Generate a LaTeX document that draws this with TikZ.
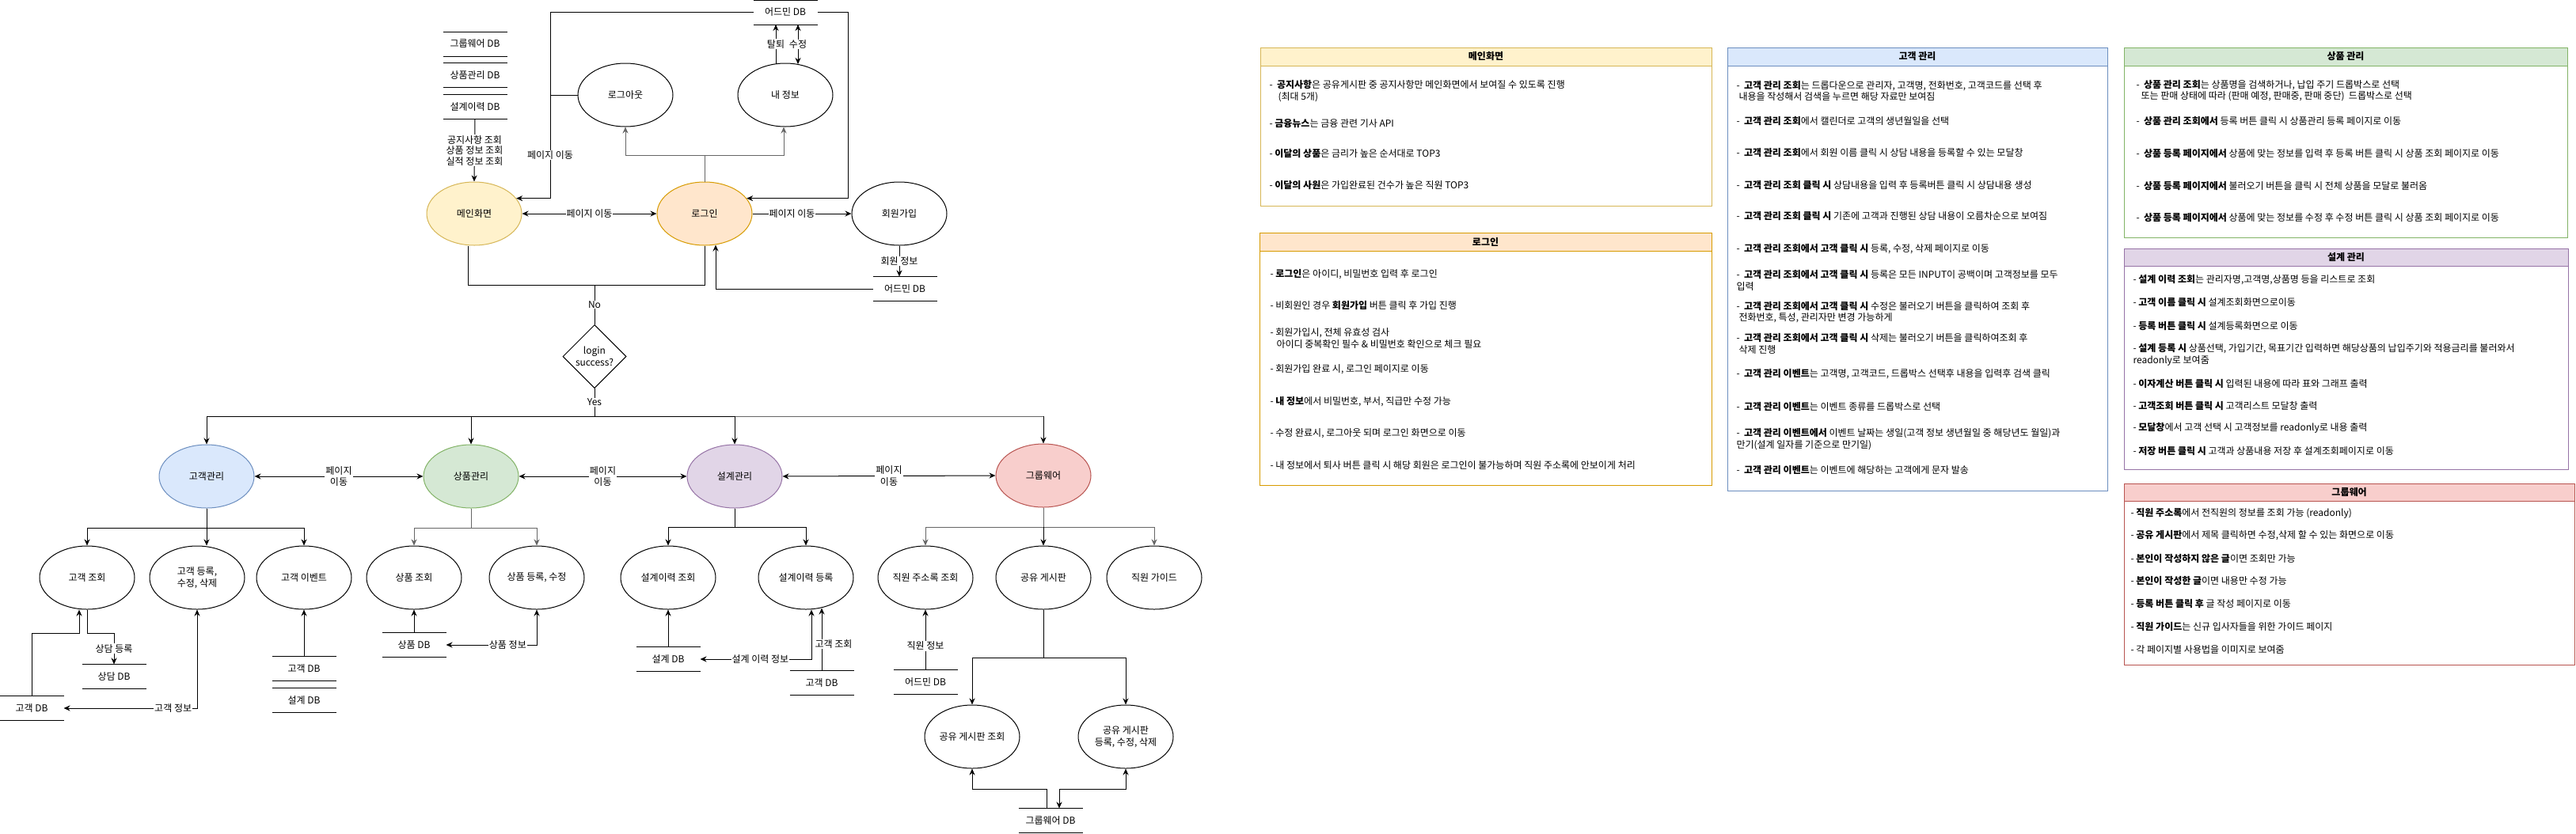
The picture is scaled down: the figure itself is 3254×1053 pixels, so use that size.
\documentclass[tikz,border=0pt]{standalone}
\usepackage{fontspec}
\setmainfont{Noto Sans CJK KR}
\usetikzlibrary{shapes.geometric,arrows.meta,calc}
\definecolor{ylF}{HTML}{FFF2CC}\definecolor{ylD}{HTML}{D6B656}
\definecolor{orF}{HTML}{FFE6CC}\definecolor{orD}{HTML}{D79B00}
\definecolor{blF}{HTML}{DAE8FC}\definecolor{blD}{HTML}{6C8EBF}
\definecolor{grF}{HTML}{D5E8D4}\definecolor{grD}{HTML}{82B366}
\definecolor{puF}{HTML}{E1D5E7}\definecolor{puD}{HTML}{9673A6}
\definecolor{rdF}{HTML}{F8CECC}\definecolor{rdD}{HTML}{B85450}
\definecolor{lnG}{HTML}{666666}
\newcommand{\fs}{\fontsize{12}{14.5}\selectfont}
\begin{document}
\begin{tikzpicture}[x=1pt,y=-1pt,
  every node/.style={font=\fs},
  line width=1pt, >={Stealth[length=8pt,width=7pt]},
  proc/.style={ellipse, draw, minimum width=120pt, minimum height=80pt, inner sep=0pt, align=center},
  db/.style={minimum width=80pt, minimum height=30pt, inner sep=0pt,
    append after command={(\tikzlastnode.north west) edge[-] (\tikzlastnode.north east)
                          (\tikzlastnode.south west) edge[-] (\tikzlastnode.south east)}},
  lbl/.style={fill=white, inner sep=1pt, align=center},
  item/.style={anchor=west, inner sep=0pt, align=left},
  ttl/.style={font=\fs\bfseries, inner sep=0pt}
]
\fill[white] (0,0) rectangle (3254,1053);
\useasboundingbox (0,0) rectangle (3254,1053);

% ---------- upper flow ----------
\node[db] (dbGW1) at (600,55.5) {그룹웨어 DB};
\node[db] (dbPM) at (600,95) {상품관리 DB};
\node[db] (dbDH) at (600,135) {설계이력 DB};
\node[proc, fill=ylF, draw=ylD] (main) at (599,270) {메인화면};
\node[proc] (logout) at (790,120) {로그아웃};
\node[proc] (myinfo) at (992,120) {내 정보};
\node[proc, fill=orF, draw=orD] (login) at (890,270) {로그인};
\node[proc] (join) at (1136,270) {회원가입};
\node[db] (adminTop) at (992,15.5) {어드민 DB};
\node[db] (adminJ) at (1143,365) {어드민 DB};
\node[diamond, draw, minimum width=80pt, minimum height=80pt, inner sep=0pt, align=center] (dec) at (751,450.5) {login\\success?};

\draw[->] (dbDH.south) -- node[lbl, font=\fontsize{12}{13.5}\selectfont]{공지사항 조회\\상품 정보 조회\\실적 정보 조회} (main.north);
\draw[->] (adminTop.west) -- (695,15.5) |- (main.20);
\node[lbl] (lblA) at (695,196) {페이지 이동};
\draw (logout.west) -- (695,120);
\draw[->,lnG] (login.north) -- (890,196) -| (logout.south);
\draw[->,lnG] (890,196) -| ($(myinfo.south)+(-2,0)$);
\draw[->] ($(myinfo.north)+(-12,1)$) -- node[lbl]{탈퇴} ($(adminTop.south)+(-12,0)$);
\draw[<->] ($(myinfo.north)+(16,1.5)$) -- node[lbl]{수정} ($(adminTop.south)+(16,0)$);
\draw[->] (adminTop.east) -- (1071,15.5) |- (login.20);
\draw[<->] (main.east) -- node[lbl]{페이지 이동} (login.west);
\draw[->] (login.east) -- node[lbl, pos=0.4]{페이지 이동} (join.west);
\draw[->] (join.south) -- node[lbl]{회원 정보} (join.south |- adminJ.north);
\draw[->] (adminJ.west) -| ($(login.south)+(14,-1)$);
\draw (login.south) -- (890,360) -- (591,360) -- ($(main.south)+(-8,0)$);
\draw (751,360) -- node[lbl]{No} (dec.north);
\draw (dec.south) -- node[lbl]{Yes} (751,526);

% ---------- management row ----------
\node[proc, fill=blF, draw=blD] (cm) at (261,602) {고객관리};
\node[proc, fill=grF, draw=grD] (pm) at (595,602) {상품관리};
\node[proc, fill=puF, draw=puD] (dm) at (928,602) {설계관리};
\node[proc, fill=rdF, draw=rdD] (gw) at (1318,601) {그룹웨어};

\draw[lnG] (751,526) -- (1318,526);
\draw[->] (751,526) -| (cm.north);
\draw[->] (751,526) -| (pm.north);
\draw[->] (751,526) -| (dm.north);
\draw[->] (1318,526) -- (gw.north);
\draw[<->] (cm.east) -- node[lbl]{페이지\\이동} (pm.west);
\draw[<->] (pm.east) -- node[lbl]{페이지\\이동} (dm.west);
\draw[<->] (dm.east) -- node[lbl]{페이지\\이동} (gw.west);

% ---------- children ----------
\node[proc] (c1) at (110,730) {고객 조회};
\node[proc] (c2) at (249,730) {고객 등록,\\수정, 삭제};
\node[proc] (c3) at (384,730) {고객 이벤트};
\node[proc] (p1) at (523,730) {상품 조회};
\node[proc] (p2) at (678,730) {상품 등록, 수정};
\node[proc] (d1) at (844,730) {설계이력 조회};
\node[proc] (d2) at (1018,730) {설계이력 등록};
\node[proc] (g1) at (1169,730) {직원 주소록 조회};
\node[proc] (g2) at (1318,730) {공유 게시판};
\node[proc] (g3) at (1458,730) {직원 가이드};
\node[proc] (g21) at (1228,931) {공유 게시판 조회};
\node[proc] (g22) at (1422,931) {공유 게시판\\등록, 수정, 삭제};

\draw[->] (cm.south) -- (261,667) -| (c1.north);
\draw[->] (261,667) -| (c3.north);
\draw[->] (261,667) -- (261,667 |- c2.north);
\draw[->,lnG] (pm.south) -- (595,667) -| (p1.north);
\draw[->,lnG] (595,667) -| (p2.north);
\draw[->] (dm.south) -- (928,666) -| (d1.north);
\draw[->] (928,666) -| (d2.north);
\draw[->,lnG] (gw.south) -- (1318,666) -| (g1.north);
\draw[->,lnG] (1318,666) -| (g3.north);
\draw[->] (1318,666) -- (g2.north);
\draw[->] (g2.south) -- (1318,831) -| (g21.north);
\draw[->] (1318,831) -| (g22.north);

% ---------- databases ----------
\node[db] (dbC) at (144,855) {상담 DB};
\node[db] (dbCu1) at (40,895) {고객 DB};
\node[db] (dbCu2) at (384,845) {고객 DB};
\node[db] (dbD1) at (384,885) {설계 DB};
\node[db] (dbP) at (523,815) {상품 DB};
\node[db] (dbD2) at (844,833) {설계 DB};
\node[db] (dbCu3) at (1038,863) {고객 DB};
\node[db] (dbA3) at (1169,862) {어드민 DB};
\node[db] (dbGW2) at (1327,1037) {그룹웨어 DB};

\draw[->] (c1.south) |- (144,800) -- node[lbl]{상담 등록} (dbC.north);
\draw[->] (dbCu1.north) |- (100,800) -- (100,800 |- c1.south);
\draw[<->] (c2.south) |- node[lbl, pos=0.59]{고객 정보} (dbCu1.east);
\draw[->] (dbCu2.north) -- (c3.south);
\draw[->] (dbP.north) -- (p1.south);
\draw[<->] (dbP.east) -| node[lbl, pos=0.34]{상품 정보} (p2.south);
\draw[->] (dbD2.north) -- (d1.south);
\draw[<->] (dbD2.east) -| node[lbl, pos=0.27]{설계 이력 정보} ($(d2.south)+(7,0)$);
\draw[->] (dbCu3.north) -- ($(dbCu3.north |- d2.south)+(0,-2)$);
\node[lbl] (lCq) at (1053,814) {고객 조회};
\draw[->] (dbA3.north) -- node[lbl, pos=0.4]{직원 정보} (g1.south);
\draw[->] ($(dbGW2.north)+(-5,0)$) |- (1228,997) -- (g21.south);
\draw[<->] ($(dbGW2.north)+(11,0)$) |- (1422,997) -- (g22.south);

% ---------- panels ----------
% 메인화면
\draw[draw=ylD, fill=white] (1592,60) rectangle (2162,260);
\draw[draw=ylD, fill=ylF] (1592,60) rectangle (2162,83);
\node[ttl] (tMain) at (1877,71.5) {메인화면};
\node[item] (m1) at (1603,115) {-\ \ \textbf{공지사항}은 공유게시판 중 공지사항만 메인화면에서 보여질 수 있도록 진행\\ \hspace*{11pt}(최대 5개)};
\node[item] (m2) at (1603,156) {- \textbf{금융뉴스}는 금융 관련 기사 API};
\node[item] (m3) at (1603,194) {- \textbf{이달의 상품}은 금리가 높은 순서대로 TOP3};
\node[item] (m4) at (1603,234) {- \textbf{이달의 사원}은 가입완료된 건수가 높은 직원 TOP3};

% 로그인
\draw[draw=orD, fill=white] (1591,294) rectangle (2162,613);
\draw[draw=orD, fill=orF] (1591,294) rectangle (2162,317);
\node[ttl] (tLogin) at (1876.5,305.5) {로그인};
\node[item] (l1) at (1604,347) {- \textbf{로그인}은 아이디, 비밀번호 입력 후 로그인};
\node[item] (l2) at (1604,386) {- 비회원인 경우 \textbf{회원가입} 버튼 클릭 후 가입 진행};
\node[item] (l3) at (1604,427.5) {- 회원가입시, 전체 유효성 검사\\ \hspace*{8pt}아이디 중복확인 필수 \& 비밀번호 확인으로 체크 필요};
\node[item] (l4) at (1604,467) {- 회원가입 완료 시, 로그인 페이지로 이동};
\node[item] (l5) at (1604,508) {- \textbf{내 정보}에서 비밀번호, 부서, 직급만 수정 가능};
\node[item] (l6) at (1604,548) {- 수정 완료시, 로그아웃 되며 로그인 화면으로 이동};
\node[item] (l7) at (1604,588) {- 내 정보에서 퇴사 버튼 클릭 시 해당 회원은 로그인이 불가능하며 직원 주소록에 안보이게 처리};

% 고객 관리
\draw[draw=blD, fill=white] (2182,60) rectangle (2662,620);
\draw[draw=blD, fill=blF] (2182,60) rectangle (2662,83);
\node[ttl] (tCust) at (2422,71.5) {고객 관리};
\node[item] (k1) at (2193,115) {-\ \ \textbf{고객 관리 조회}는 드롭다운으로 관리자, 고객명, 전화번호, 고객코드를 선택 후\\ \hspace*{3pt}내용을 작성해서 검색을 누르면 해당 자료만 보여짐};
\node[item] (k2) at (2193,153) {-\ \ \textbf{고객 관리 조회}에서 캘린더로 고객의 생년월일을 선택};
\node[item] (k3) at (2193,193) {-\ \ \textbf{고객 관리 조회}에서 회원 이름 클릭 시 상담 내용을 등록할 수 있는 모달창};
\node[item] (k4) at (2193,234) {-\ \ \textbf{고객 관리 조회 클릭 시} 상담내용을 입력 후 등록버튼 클릭 시 상담내용 생성};
\node[item] (k5) at (2193,273) {-\ \ \textbf{고객 관리 조회 클릭 시} 기존에 고객과 진행된 상담 내용이 오름차순으로 보여짐};
\node[item] (k6) at (2193,315) {-\ \ \textbf{고객 관리 조회에서 고객 클릭 시} 등록, 수정, 삭제 페이지로 이동};
\node[item] (k7) at (2193,354.5) {-\ \ \textbf{고객 관리 조회에서 고객 클릭 시} 등록은 모든 INPUT이 공백이며 고객정보를 모두\\입력};
\node[item] (k8) at (2193,394.5) {-\ \ \textbf{고객 관리 조회에서 고객 클릭 시} 수정은 불러오기 버튼을 클릭하여 조회 후\\ \hspace*{3pt}전화번호, 특성, 관리자만 변경 가능하게};
\node[item] (k9) at (2193,434.5) {-\ \ \textbf{고객 관리 조회에서 고객 클릭 시} 삭제는 불러오기 버튼을 클릭하여조회 후\\ \hspace*{3pt}삭제 진행};
\node[item] (k10) at (2193,473) {-\ \ \textbf{고객 관리 이벤트}는 고객명, 고객코드, 드롭박스 선택후 내용을 입력후 검색 클릭};
\node[item] (k11) at (2193,514) {-\ \ \textbf{고객 관리 이벤트}는 이벤트 종류를 드롭박스로 선택};
\node[item] (k12) at (2193,555) {-\ \ \textbf{고객 관리 이벤트에서} 이벤트 날짜는 생일(고객 정보 생년월일 중 해당년도 월일)과\\만기(설계 일자를 기준으로 만기일)};
\node[item] (k13) at (2193,594) {-\ \ \textbf{고객 관리 이벤트}는 이벤트에 해당하는 고객에게 문자 발송};

% 상품 관리
\draw[draw=grD, fill=white] (2683,60) rectangle (3243,300);
\draw[draw=grD, fill=grF] (2683,60) rectangle (3243,83);
\node[ttl] (tProd) at (2963,71.5) {상품 관리};
\node[item] (q1) at (2698,114.5) {-\ \ \textbf{상품 관리 조회}는 상품명을 검색하거나, 납입 주기 드롭박스로 선택\\ \hspace*{6pt}또는 판매 상태에 따라 (판매 예정, 판매중, 판매 중단)\ \ 드롭박스로 선택};
\node[item] (q2) at (2698,153) {-\ \ \textbf{상품 관리 조회에서} 등록 버튼 클릭 시 상품관리 등록 페이지로 이동};
\node[item] (q3) at (2698,194) {-\ \ \textbf{상품 등록 페이지에서} 상품에 맞는 정보를 입력 후 등록 버튼 클릭 시 상품 조회 페이지로 이동};
\node[item] (q4) at (2698,235) {-\ \ \textbf{상품 등록 페이지에서} 불러오기 버튼을 클릭 시 전체 상품을 모달로 불러옴};
\node[item] (q5) at (2698,275) {-\ \ \textbf{상품 등록 페이지에서} 상품에 맞는 정보를 수정 후 수정 버튼 클릭 시 상품 조회 페이지로 이동};

% 설계 관리
\draw[draw=puD, fill=white] (2683,314) rectangle (3244,593);
\draw[draw=puD, fill=puF] (2683,314) rectangle (3244,336);
\node[ttl] (tDes) at (2963.5,325) {설계 관리};
\node[item] (s1) at (2694,354) {- \textbf{설계 이력 조회}는 관리자명,고객명,상품명 등을 리스트로 조회};
\node[item] (s2) at (2694,382) {- \textbf{고객 이름 클릭 시} 설계조회화면으로이동};
\node[item] (s3) at (2694,412) {- \textbf{등록 버튼 클릭 시} 설계등록화면으로 이동};
\node[item] (s4) at (2694,448.5) {- \textbf{설계 등록 시} 상품선택, 가입기간, 목표기간 입력하면 해당상품의 납입주기와 적용금리를 불러와서\\readonly로 보여줌};
\node[item] (s5) at (2694,485) {- \textbf{이자계산 버튼 클릭 시} 입력된 내용에 따라 표와 그래프 출력};
\node[item] (s6) at (2694,513) {- \textbf{고객조회 버튼 클릭 시} 고객리스트 모달창 출력};
\node[item] (s7) at (2694,541) {- \textbf{모달창}에서 고객 선택 시 고객정보를 readonly로 내용 출력};
\node[item] (s8) at (2694,570) {- \textbf{저장 버튼 클릭 시} 고객과 상품내용 저장 후 설계조회페이지로 이동};

% 그룹웨어
\draw[draw=rdD, fill=white] (2683,611) rectangle (3252,840);
\draw[draw=rdD, fill=rdF] (2683,611) rectangle (3252,633);
\node[ttl] (tGw) at (2967.5,622) {그룹웨어};
\node[item] (w1) at (2691,649) {- \textbf{직원 주소록}에서 전직원의 정보를 조회 가능 (readonly)};
\node[item] (w2) at (2691,677) {- \textbf{공유 게시판}에서 제목 클릭하면 수정,삭제 할 수 있는 화면으로 이동};
\node[item] (w3) at (2691,706) {- \textbf{본인이 작성하지 않은 글}이면 조회만 가능};
\node[item] (w4) at (2691,734) {- \textbf{본인이 작성한 글}이면 내용만 수정 가능};
\node[item] (w5) at (2691,763) {- \textbf{등록 버튼 클릭 후} 글 작성 페이지로 이동};
\node[item] (w6) at (2691,792) {- \textbf{직원 가이드}는 신규 입사자들을 위한 가이드 페이지};
\node[item] (w7) at (2691,821) {- 각 페이지별 사용법을 이미지로 보여줌};
\end{tikzpicture}
\end{document}
